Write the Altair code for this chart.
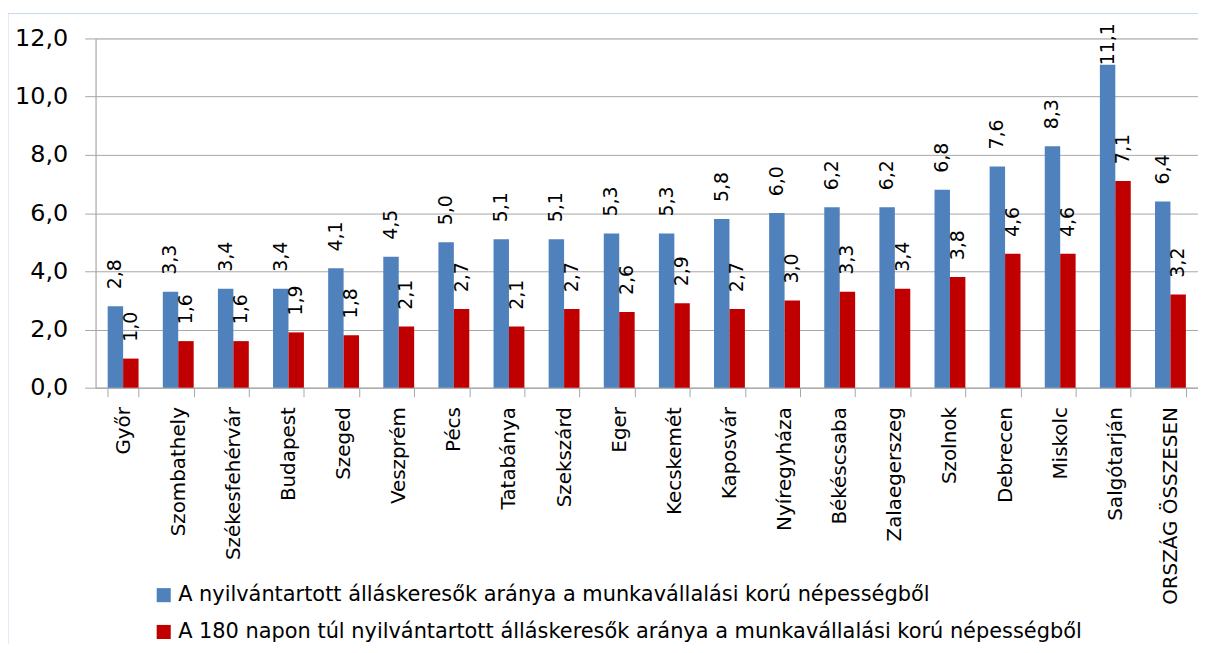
import altair as alt
import pandas as pd

cities = ["Győr", "Szombathely", "Székesfehérvár", "Budapest", "Szeged", "Veszprém",
          "Pécs", "Tatabánya", "Szekszárd", "Eger", "Kecskemét", "Kaposvár",
          "Nyíregyháza", "Békéscsaba", "Zalaegerszeg", "Szolnok", "Debrecen",
          "Miskolc", "Salgótarján", "ORSZÁG ÖSSZESEN"]
series_names = [
    "A nyilvántartott álláskeresők aránya a munkavállalási korú népességből",
    "A 180 napon túl nyilvántartott álláskeresők aránya a munkavállalási korú népességből",
]
total_rate = [2.8, 3.3, 3.4, 3.4, 4.1, 4.5, 5.0, 5.1, 5.1, 5.3, 5.3, 5.8, 6.0, 6.2, 6.2, 6.8, 7.6, 8.3, 11.1, 6.4]
long_term_rate = [1.0, 1.6, 1.6, 1.9, 1.8, 2.1, 2.7, 2.1, 2.7, 2.6, 2.9, 2.7, 3.0, 3.3, 3.4, 3.8, 4.6, 4.6, 7.1, 3.2]
colors = ["#4F81BD", "#C00000"]
y_ticks = [0, 2, 4, 6, 8, 10, 12]

rows = []
for i, c in enumerate(cities):
    rows.append({"city": c, "series": series_names[0], "value": total_rate[i]})
    rows.append({"city": c, "series": series_names[1], "value": long_term_rate[i]})
df = pd.DataFrame(rows)

FONT = "DejaVu Sans"
GRID = "#A6A6A6"

x_enc = alt.X("city:N", sort=cities,
              scale=alt.Scale(paddingInner=0.44, paddingOuter=0.22),
              axis=alt.Axis(title=None, labelAngle=270, labelFont=FONT, labelFontSize=20,
                            labelColor="#000000", tickBand="extent", tickSize=9,
                            tickColor=GRID, domainColor=GRID, labelPadding=10,
                            labelLimit=400, grid=False))
xoff = alt.XOffset("series:N", sort=series_names)
y_enc = alt.Y("value:Q", scale=alt.Scale(domain=[0, 12], nice=False),
              axis=alt.Axis(title=None, values=y_ticks, grid=True, gridColor=GRID,
                            domainColor=GRID, tickColor=GRID, tickSize=11,
                            labelPadding=17, labelFont=FONT, labelFontSize=24,
                            labelColor="#000000",
                            labelExpr="replace(format(datum.value, '.1f'), '.', ',')"))

bars = alt.Chart(df).mark_bar().encode(
    x=x_enc, xOffset=xoff, y=y_enc,
    color=alt.Color("series:N", sort=series_names,
                    scale=alt.Scale(domain=series_names, range=colors),
                    legend=alt.Legend(title=None, orient="none", legendX=58, legendY=549,
                                      direction="vertical", symbolType="square",
                                      symbolSize=200, symbolStrokeWidth=0,
                                      labelFont=FONT, labelFontSize=21,
                                      labelColor="#000000", labelLimit=1200,
                                      labelOffset=4, rowPadding=15, padding=0)),
)

# keep labels inside the chart area (as the source chart does for the tallest bar)
labels = alt.Chart(df).transform_calculate(
    lab="replace(format(datum.value, '.1f'), '.', ',')",
    labpos="min(datum.value, 10.5)",
).mark_text(angle=270, align="left", baseline="middle", dx=17,
            font=FONT, fontSize=19, color="#000000").encode(
    x=alt.X("city:N", sort=cities), xOffset=xoff, y="labpos:Q", text="lab:N"
)

frame = alt.Chart(alt.Data(values=[{"a": 1}])).mark_rule(color="#C6D9F1", strokeWidth=1).encode(
    x=alt.value(-88), y=alt.value(-25), y2=alt.value(620)
)
frame_top = alt.Chart(alt.Data(values=[{"a": 1}])).mark_rule(color="#C6D9F1", strokeWidth=1).encode(
    x=alt.value(-88), x2=alt.value(1120), y=alt.value(-25)
)

chart = alt.layer(frame, frame_top, bars, labels).properties(
    width=1108, height=351,
    autosize=alt.AutoSizeParams(type="none"),
    padding={"left": 88, "top": 29, "right": 0, "bottom": 256},
).configure_view(stroke=None).configure(background="#FFFFFF")

chart.save("out.html", embed_options={"renderer": "svg", "actions": False})
